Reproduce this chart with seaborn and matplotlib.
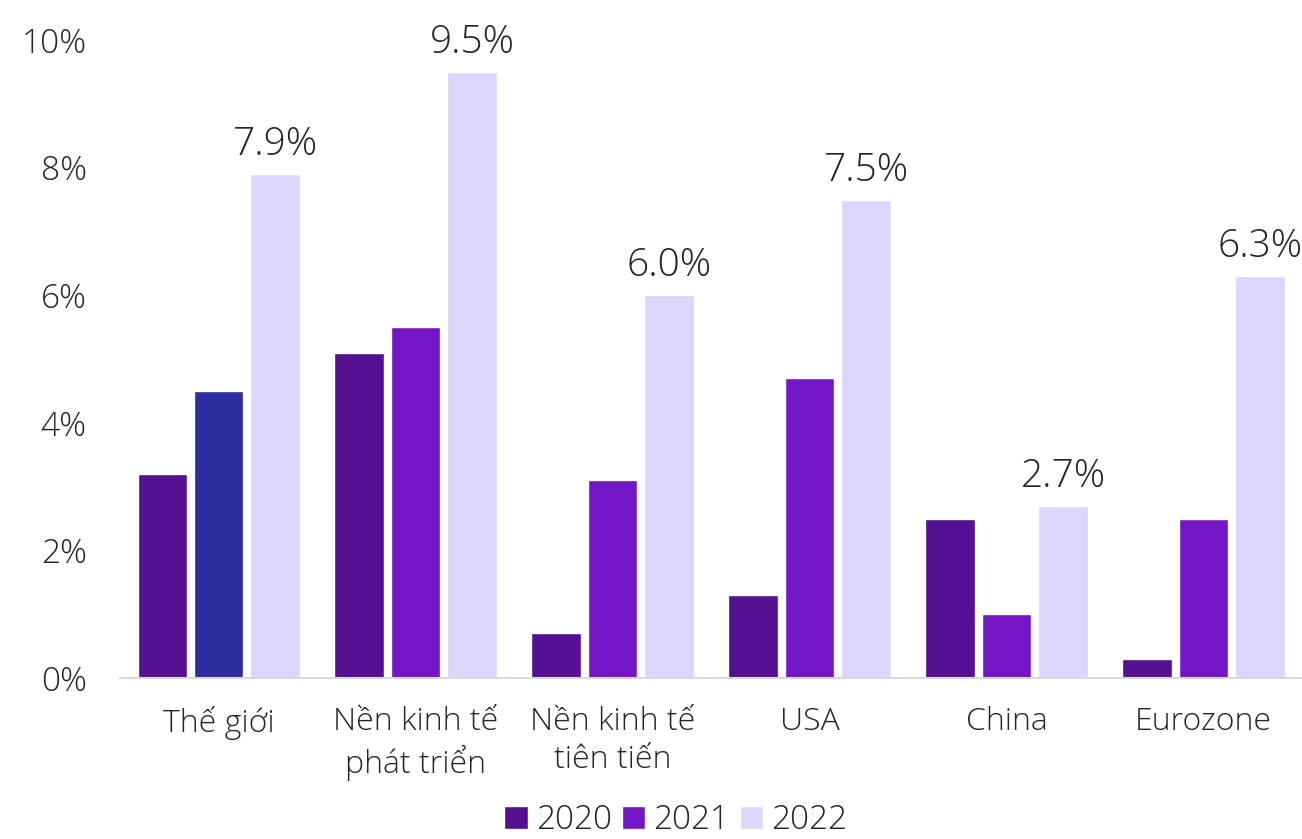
import matplotlib
matplotlib.use("Agg")
import matplotlib.pyplot as plt
import seaborn as sns
import pandas as pd

categories = ["Thế giới", "Nền kinh tế\nphát triển", "Nền kinh tế\ntiên tiến", "USA", "China", "Eurozone"]
years = ["2020", "2021", "2022"]
v2020 = [3.2, 5.1, 0.7, 1.3, 2.5, 0.3]
v2021 = [4.5, 5.5, 3.1, 4.7, 1.0, 2.5]
v2022 = [7.9, 9.5, 6.0, 7.5, 2.7, 6.3]
yticks = [0, 2, 4, 6, 8, 10]

colors = {"2020": "#541091", "2021": "#7316C6", "2022": "#DCD6FC"}
world_2021_color = "#2E2DA0"

rows = []
for yr, vals in zip(years, [v2020, v2021, v2022]):
    for c, v in zip(categories, vals):
        rows.append({"Khu vực": c, "Năm": yr, "Tăng trưởng": v})
df = pd.DataFrame(rows)

sns.set_theme(style="white")
plt.rcParams["font.family"] = ["Open Sans", "DejaVu Sans"]
plt.rcParams["font.weight"] = "light"

fig = plt.figure(figsize=(13.02, 8.39), dpi=100)
ax = fig.add_axes([0.0922, 0.1919, 0.9078, 0.7604])

sns.barplot(data=df, x="Khu vực", y="Tăng trưởng", hue="Năm", palette=colors,
            width=0.86, gap=0.13, ax=ax, legend=True, saturation=1)

# the world 2021 bar uses a distinct blue
ax.containers[1][0].set_facecolor(world_2021_color)

# value labels on the 2022 bars
for bar, v in zip(ax.containers[2], v2022):
    ax.annotate(f"{v:.1f}%", (bar.get_x() + bar.get_width() / 2, v),
                xytext=(0, 7), textcoords="offset points", ha="center", va="bottom",
                fontsize=28, color="#262626", fontweight="light")

ax.set_ylim(0, 10)
ax.set_xlim(-0.5, len(categories) - 0.5)
ax.set_yticks(yticks)
ax.set_yticklabels([f"{t}%" for t in yticks], fontsize=24, color="#262626")
ax.set_xticks(range(len(categories)))
ax.set_xticklabels(categories, fontsize=23, color="#262626", linespacing=1.25)
ax.tick_params(axis="x", length=0, pad=20)
ax.tick_params(axis="y", length=0, pad=24)
ax.set_xlabel("")
ax.set_ylabel("")
for s in ["top", "right", "left"]:
    ax.spines[s].set_visible(False)
ax.spines["bottom"].set_color("#D9D9D9")
ax.spines["bottom"].set_linewidth(1.5)

handles, labels = ax.get_legend_handles_labels()
ax.legend_.remove()
fig.legend(handles, labels, loc="lower center", bbox_to_anchor=(0.519, 0.0), ncol=3,
           frameon=False, fontsize=24, handlelength=0.7, handleheight=0.7,
           handletextpad=0.25, columnspacing=0.3, labelcolor="#262626",
           borderaxespad=0, borderpad=0.05)

fig.savefig("out.png", dpi=100)
